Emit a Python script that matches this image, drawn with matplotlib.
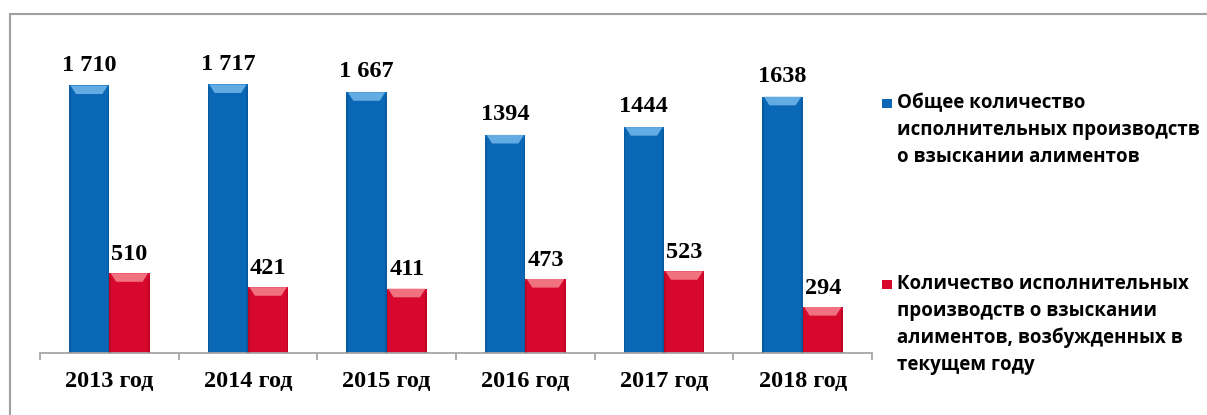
import matplotlib.pyplot as plt
import numpy as np
from matplotlib.patches import Polygon, Rectangle
from matplotlib.lines import Line2D

# enforcement proceedings on alimony, by year
years = ['2013 год', '2014 год', '2015 год', '2016 год', '2017 год', '2018 год']
total = [1710, 1717, 1667, 1394, 1444, 1638]
new_cases = [510, 421, 411, 473, 523, 294]
grouped = [True, True, True, False, False, False]   # first three labels use a space separator

legend_total = 'Общее количество\nисполнительных производств\nо взыскании алиментов'
legend_new = ('Количество исполнительных\nпроизводств о взыскании\n'
              'алиментов, возбужденных в\nтекущем году')

blue, blue_top = '#0a67b5', '#62abe3'
red, red_top = '#d8072c', '#f0717f'

fig = plt.figure(figsize=(12.07, 4.15), dpi=100)
ax = fig.add_axes([0.0331, 0.1494, 0.6894, 0.754])

x = np.arange(len(years))
w = 0.29


def bevel_bars(xs, vals, color, top_color):
    bars = ax.bar(xs, vals, w, color=color, edgecolor='none', zorder=2)
    for b in bars:
        x0, x1, h = b.get_x(), b.get_x() + b.get_width(), b.get_height()
        # light sloped cap on top of each bar
        cap = Polygon([(x0 + 0.01, h), (x1 - 0.01, h),
                       (x1 - 0.05, h - 55), (x0 + 0.05, h - 55)],
                      closed=True, facecolor=top_color, edgecolor='none', zorder=3)
        ax.add_patch(cap)
        # darker side edges
        ax.add_patch(Rectangle((x0, 0), 0.012, h - 20, facecolor='black', alpha=0.12,
                               edgecolor='none', zorder=3))
        ax.add_patch(Rectangle((x1 - 0.012, 0), 0.012, h - 20, facecolor='black', alpha=0.12,
                               edgecolor='none', zorder=3))
    return bars


bevel_bars(x - w / 2, total, blue, blue_top)
bevel_bars(x + w / 2, new_cases, red, red_top)

lab_font = dict(family='Liberation Serif', weight='bold', size=17.5)
for i in range(len(years)):
    t = '{:,}'.format(total[i]).replace(',', ' ') if grouped[i] else str(total[i])
    ax.annotate(t, (x[i] - w / 2, total[i]), xytext=(0, 7), textcoords='offset points',
                ha='center', va='bottom', **lab_font)
    ax.annotate(str(new_cases[i]), (x[i] + w / 2, new_cases[i]), xytext=(0, 6),
                textcoords='offset points', ha='center', va='bottom', **lab_font)

ax.set_xlim(-0.5, len(years) - 0.5)
ax.set_ylim(0, 2000)
for s in ['top', 'left', 'right']:
    ax.spines[s].set_visible(False)
ax.spines['bottom'].set_color('#a6a6a6')
ax.spines['bottom'].set_linewidth(1.3)
ax.set_yticks([])
ax.set_xticks(x)
ax.set_xticklabels(years, fontdict=lab_font)
ax.tick_params(axis='x', which='major', length=0, pad=13)
ax.set_xticks(np.arange(len(years) + 1) - 0.5, minor=True)
ax.tick_params(axis='x', which='minor', length=5, color='#a6a6a6', width=1.3)

# legend drawn by hand beside the axes
leg_font = dict(family='Open Sans', weight='bold', size=13.5, linespacing=1.45)
fig.add_artist(Rectangle((882 / 1207, 1 - 108 / 415), 10 / 1207, 9 / 415,
                         transform=fig.transFigure, facecolor=blue, edgecolor='none'))
fig.text(897 / 1207, 1 - 93 / 415, legend_total, ha='left', va='top', **leg_font)
fig.add_artist(Rectangle((882 / 1207, 1 - 289 / 415), 10 / 1207, 9 / 415,
                         transform=fig.transFigure, facecolor=red, edgecolor='none'))
fig.text(897 / 1207, 1 - 274 / 415, legend_new, ha='left', va='top', **leg_font)

# grey frame along top and left edges
fig.add_artist(Line2D([10 / 1207, 1], [1 - 14 / 415, 1 - 14 / 415],
                      transform=fig.transFigure, color='#a0a0a0', lw=1.5))
fig.add_artist(Line2D([10 / 1207, 10 / 1207], [0, 1 - 14 / 415],
                      transform=fig.transFigure, color='#a0a0a0', lw=1.5))

fig.savefig('out.png', dpi=100, facecolor='white')
